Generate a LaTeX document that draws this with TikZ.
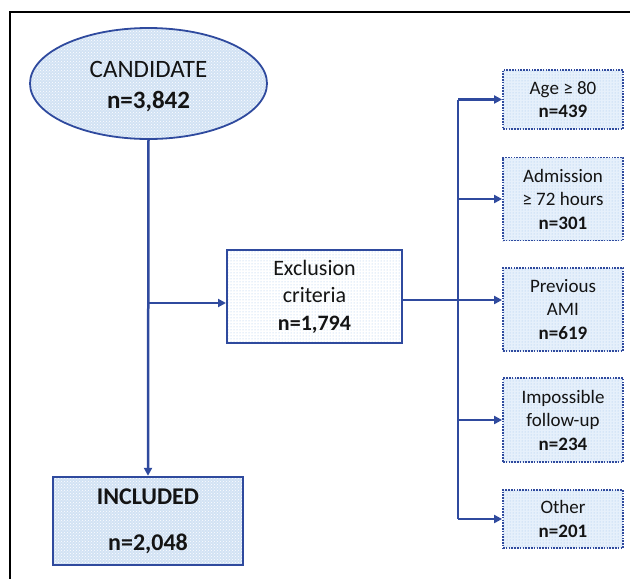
\documentclass[tikz,border=0pt]{standalone}
\usepackage{fontspec}
\setmainfont{Carlito}
\usetikzlibrary{arrows.meta,shapes.geometric,patterns}
\definecolor{lineblue}{RGB}{47,74,158}
\definecolor{fillA}{RGB}{210,226,244}
\definecolor{fillB}{RGB}{230,240,251}
\definecolor{dotA}{RGB}{160,195,236}
\definecolor{txt}{RGB}{20,20,20}
\tikzset{
  link/.style={draw=lineblue,line width=2.5pt},
  arr/.style={link,-{Triangle[length=8pt,width=8pt]}},
  candbox/.style={ellipse,draw=lineblue,line width=1.8pt,minimum width=237pt,minimum height=111pt,inner sep=0pt,
    preaction={fill=fillA},pattern=crosshatch dots,pattern color=white,align=center,text=txt,
    font=\fontsize{25}{31}\selectfont},
  inclbox/.style={rectangle,draw=lineblue,line width=2.4pt,minimum width=190pt,minimum height=88pt,inner sep=0pt,
    preaction={fill=fillA},pattern=crosshatch dots,pattern color=white,align=center,text=txt,
    font=\fontsize{24}{46}\selectfont\bfseries},
  exclbox/.style={rectangle,draw=lineblue,line width=2pt,minimum width=175pt,minimum height=93pt,inner sep=0pt,
    preaction={fill=white},pattern=dots,pattern color=dotA,align=center,text=txt,
    font=\fontsize{22}{27.5}\selectfont},
  critbox/.style={rectangle,draw=lineblue,line width=1.8pt,dash pattern=on 1.6pt off 1.2pt,minimum width=120pt,inner sep=0pt,
    preaction={fill=fillB},pattern=dots,pattern color=dotA,align=center,text=txt,
    font=\fontsize{19}{23.5}\selectfont},
}
\begin{document}
\begin{tikzpicture}[x=1pt,y=1pt]
\useasboundingbox (0,0) rectangle (630,-579);
% outer frame
\draw[black,line width=2.4pt] (10,-580) -- (10,-12) -- (631,-12);
% nodes
\node[candbox] (cand) at (148.5,-83.5) {\strut CANDIDATE\\\textbf{n=3,842}};
\node[inclbox] (incl) at (148,-521) {INCLUDED\\n=2,048};
\node[exclbox] (excl) at (314.5,-296.5) {Exclusion\\criteria\\\textbf{n=1,794}};
\node[critbox,minimum height=59pt] (age) at (563,-99.5) {Age ≥ 80\\\textbf{n=439}};
\node[critbox,minimum height=83pt] (adm) at (563,-199) {Admission\\≥ 72 hours\\\textbf{n=301}};
\node[critbox,minimum height=83pt] (ami) at (563,-309.5) {Previous\\AMI\\\textbf{n=619}};
\node[critbox,minimum height=84pt] (imp) at (563,-420) {Impossible\\follow-up\\\textbf{n=234}};
\node[critbox,minimum height=58pt] (oth) at (563,-519) {Other\\\textbf{n=201}};
% connectors
\coordinate (b1) at (148,-303);
\coordinate (tr) at (458,-300);
\draw[arr] (cand.south) -- (incl.north);
\draw[arr] (b1) -- (b1 -| excl.west);
\draw[link] (tr |- age.west) -- (tr |- oth.west);
\draw[arr] (tr |- age.west) -- (age.west);
\draw[arr] (tr |- adm.west) -- (adm.west);
\draw[arr] (excl.east |- tr) -- (tr -| ami.west);
\draw[arr] (tr |- imp.west) -- (imp.west);
\draw[arr] (tr |- oth.west) -- (oth.west);
\end{tikzpicture}
\end{document}
